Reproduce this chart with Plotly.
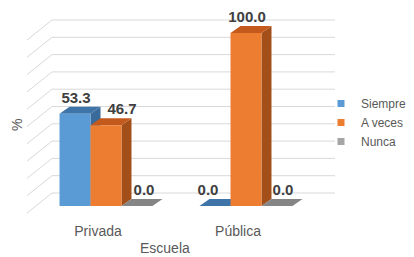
import plotly.graph_objects as go

categories = ["Privada", "Pública"]
series_names = ["Siempre", "A veces", "Nunca"]
siempre = [53.3, 0.0]
a_veces = [46.7, 100.0]
nunca = [0.0, 0.0]
values = [siempre, a_veces, nunca]
grid_values = list(range(0, 101, 10))

# styles
front_colors = ["#5B9BD5", "#ED7D31", "#A5A5A5"]
top_colors = ["#3F74A9", "#C3591C", "#858585"]
side_colors = ["#396A9A", "#A34F1A", "#7A7A7A"]
FONT = "Liberation Sans"
# horizontal nudges of data labels from bar centres (px), per series then category
label_nudge_px = [[1, -7], [16, 1], [7, 6]]

# geometry (pixel -> data conversions)
PX_X = 140.0   # px per category unit
PX_Y = 1.73    # px per % unit
L, R, T, B = 20, 74, 10, 42
W_PX, H_PX = 414, 257
plot_w = W_PX - L - R
plot_h = H_PX - T - B
x0_px = 106 - L
y0_px = 206 - T
xrange = [-x0_px / PX_X, (plot_w - x0_px) / PX_X]
yrange = [-(plot_h - y0_px) / PX_Y, y0_px / PX_Y]

BARGAP = 0.336
BW = (1 - BARGAP) / 3
DX = 10 / PX_X
DY = 7 / PX_Y
WALL_DY = 13 / PX_Y
WALL_X0 = (52 - 106) / PX_X
WALL_X1 = (335 - 106) / PX_X
SIDE_X = (27 - 106) / PX_X
SIDE_DY = -20 / PX_Y


def px_to_paper(xp, yp):
    return (xp - L) / plot_w, (H_PX - B - yp) / plot_h


fig = go.Figure()

xs = list(range(len(categories)))
for s, (name, vals) in enumerate(zip(series_names, values)):
    # top and side faces
    for i, v in enumerate(vals):
        xa = xs[i] + (s - 1) * BW - BW / 2
        xb = xa + BW
        fig.add_trace(go.Scatter(
            x=[xb, xb, xb + DX, xb + DX, xb], y=[0, v, v + DY, DY, 0],
            fill="toself", fillcolor=side_colors[s], mode="lines",
            line=dict(width=0, color=side_colors[s]), showlegend=False,
            hoverinfo="skip", zorder=2 * s))
        fig.add_trace(go.Scatter(
            x=[xa, xb, xb + DX, xa + DX, xa], y=[v, v, v + DY, v + DY, v],
            fill="toself", fillcolor=top_colors[s], mode="lines",
            line=dict(width=0, color=top_colors[s]), showlegend=False,
            hoverinfo="skip", zorder=2 * s))
    fig.add_trace(go.Bar(
        x=xs, y=vals, name=name, marker=dict(color=front_colors[s], line=dict(width=0)),
        offsetgroup=str(s), showlegend=False, zorder=2 * s + 1, hoverinfo="skip"))
    # labels
    fig.add_trace(go.Scatter(
        x=[xs[i] + (s - 1) * BW + label_nudge_px[s][i] / PX_X for i in range(len(vals))],
        y=[v + DY for v in vals], mode="text",
        text=[f"{v:.1f}" for v in vals], textposition="top center",
        textfont=dict(family=FONT, size=15, color="#404040", weight="bold"),
        showlegend=False, hoverinfo="skip", zorder=10))
    # legend entry
    fig.add_trace(go.Scatter(
        x=[None], y=[None], mode="markers", name=name,
        marker=dict(symbol="square", size=7, color=front_colors[s]),
        showlegend=True))

shapes = []
for g in grid_values:
    yb = g + WALL_DY
    shapes.append(dict(type="line", xref="x", yref="y", x0=WALL_X0, x1=WALL_X1,
                       y0=yb, y1=yb, line=dict(color="#D9D9D9", width=1), layer="below"))
    shapes.append(dict(type="line", xref="x", yref="y", x0=WALL_X0, x1=SIDE_X,
                       y0=yb, y1=yb + SIDE_DY, line=dict(color="#D9D9D9", width=1), layer="below"))

shift = 8 / PX_X
lx, ly = px_to_paper(321, 89)
px_, py_ = px_to_paper(17, 125)
ex, ey = px_to_paper(165, 248)
fig.update_layout(
    width=W_PX, height=H_PX,
    margin=dict(l=L, r=R, t=T, b=B, autoexpand=False),
    paper_bgcolor="white", plot_bgcolor="white",
    barmode="group", bargap=BARGAP, bargroupgap=0,
    shapes=shapes,
    font=dict(family=FONT, color="#595959"),
    xaxis=dict(range=xrange, tickvals=[x - shift for x in xs], ticktext=categories,
               showgrid=False, zeroline=False, showline=False, ticks="",
               tickfont=dict(size=14, color="#595959"), ticklabelstandoff=6,
               fixedrange=True, automargin=False),
    yaxis=dict(range=yrange, showgrid=False, zeroline=False, showline=False,
               showticklabels=False, ticks="", fixedrange=True, automargin=False),
    legend=dict(x=lx, y=ly, xanchor="left", yanchor="top",
                bgcolor="rgba(0,0,0,0)", font=dict(size=12, color="#595959"),
                itemwidth=30, tracegroupgap=0),
    annotations=[
        dict(text="%", x=px_, y=py_, xref="paper", yref="paper",
             xanchor="center", yanchor="middle",
             showarrow=False, textangle=-90, font=dict(size=14, color="#595959")),
        dict(text="Escuela", x=ex, y=ey, xref="paper", yref="paper",
             xanchor="center", yanchor="middle",
             showarrow=False, font=dict(size=14, color="#595959")),
    ],
)

fig.write_html("out.html", config={"displayModeBar": False},
               post_script="document.body.style.margin='0';document.body.style.overflow='hidden';")
